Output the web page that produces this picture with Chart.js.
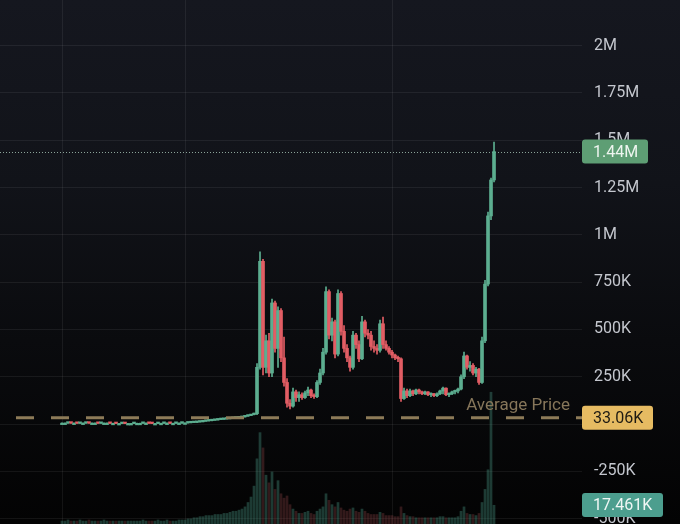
<!DOCTYPE html>
<html>
<head>
<meta charset="utf-8">
<script src="https://cdn.jsdelivr.net/npm/chart.js@4.4.1/dist/chart.umd.min.js"></script>
<style>
html, body { margin: 0; padding: 0; background: #000; }
#wrap {
  width: 680px; height: 524px;
  background: linear-gradient(180deg, #15171f 0%, #111319 35%, #0a0b0e 65%, #030303 100%);
}
canvas { display: block; }
</style>
</head>
<body>
<div id="wrap"><canvas id="chart" width="680" height="524"></canvas></div>
<script>
// prices and volumes in thousands
const opens = [
  5,5,5,6,5,5,4,5,5,6,5,5,5,4,5,5, 5,4,4,3,3,4,3,3,3,4,
  4,4,5,5,4,3,3,4,4,5,5,4,4,5,5,6,6, 7,8,9,11, 12,15,17,18,20,22,
  24,25,27,28,30,32,33,35, 38,42,45,50,
  55,300,860,300,440,270,640,400,600,350,
  220,110,95,170,140,155,140,165,180,150,
  145,220,270,380,700,470,540,370,690,490,
  400,350,300,470,420,345,540,480,470,410,
  400,390,530,420,400,380,365,350,345,135,
  175,150,175,160,180,170,160,170,155,160,
  150,160,175,190,155,160,170,175,185,250,
  360,300,310,270,290,220,440,740,1100,1290
];
const closes = [
  5,5,6,5,5,4,5,5,6,5,5,5,4,5,5,5, 4,4,3,3,4,3,3,3,4,4,
  4,5,5,4,3,3,4,4,5,5,4,4,5,5,6,6,7, 8,9,11,12, 15,17,18,20,22,24,
  25,27,28,30,32,33,35,38, 42,45,50,55,
  300,860,300,440,270,640,400,600,350,220,
  110,95,170,140,155,140,165,180,150,145,
  220,270,380,700,470,540,370,690,490,400,
  350,300,470,420,345,540,480,470,410,400,
  390,530,420,400,380,365,350,345,135,175,
  150,175,160,180,170,160,170,155,160,150,
  160,175,190,155,160,170,175,185,250,360,
  300,310,270,290,220,440,740,1100,1290,1440
];
const highs = [
  6,6,7,7,6,6,6,6,7,7,6,6,6,6,6,6, 6,5,5,4,5,5,4,4,5,5,
  5,6,6,6,5,4,5,5,6,6,6,5,6,6,7,7,8, 9,10,12,13, 16,18,19,21,23,25,
  26,28,29,31,33,34,36,40, 44,47,52,58,
  320,910,870,470,480,660,650,620,610,460,
  240,130,190,180,170,165,175,195,185,160,
  230,290,400,725,710,560,550,710,700,520,
  420,360,490,480,440,570,550,500,490,440,
  420,550,565,440,410,390,370,360,350,190,
  185,185,180,185,185,175,175,172,165,162,
  165,180,195,192,165,175,180,190,260,380,
  365,330,320,300,295,460,760,1120,1300,1490
];
const lows = [
  4,4,4,4,4,3,3,4,4,4,4,4,3,3,4,4, 3,3,2,2,2,2,2,2,2,3,
  3,3,4,3,2,2,2,3,3,4,3,3,3,4,4,5,5, 6,7,8,10, 11,14,16,17,19,21,
  23,24,26,27,29,31,32,34, 37,41,44,48,
  50,290,260,270,250,250,380,300,330,200,
  90,80,90,120,120,130,135,150,140,135,
  140,210,260,370,450,440,350,360,470,380,
  330,280,290,400,330,340,460,450,390,380,
  370,380,400,390,370,350,340,330,120,130,
  140,145,150,155,160,155,155,150,145,145,
  145,155,160,150,145,155,160,165,180,240,
  290,280,260,250,210,215,430,730,1080,1280
];
const volumes = [
  3,3,4,3,3,3,4,3,3,4,3,3,3,3,4,3, 3,3,3,3,3,3,3,3,3,3,
  3,4,3,3,3,3,4,3,3,4,3,3,3,4,4,4,5, 5,6,6,7, 7,8,8,8,9,9,
  9,10,10,11,12,12,13,14, 16,20,25,35,
  60,84,70,45,38,48,32,40,28,24,
  26,18,14,12,10,10,11,12,10,9,
  12,14,16,28,22,18,16,20,15,13,
  12,14,15,12,11,14,12,10,9,9,
  9,11,10,8,8,8,7,7,16,10,
  8,7,7,6,6,6,6,6,6,6,
  6,7,7,6,6,6,6,7,12,16,
  10,9,9,8,10,20,32,50,121,17.461
];
const priceTicks = [-500, -250, 0, 250, 500, 750, 1000, 1250, 1500, 1750, 2000];
const avgPrice = 33.06;
const timeGridAt = [0, 41, 110];

const fmt = v => {
  if (v === 0) return '0';
  if (Math.abs(v) >= 1000) return (v / 1000) + 'M';
  return v + 'K';
};

const up = closes.map((c, i) => c >= opens[i]);
const candleCol = up.map(u => u ? '#5cae90' : '#e25d64');
const volCol = up.map(u => u ? 'rgba(75,155,135,0.36)' : 'rgba(160,75,80,0.3)');

function tag(ctx, x, yc, w, text, bg, fg) {
  ctx.save();
  ctx.fillStyle = bg;
  ctx.beginPath();
  ctx.roundRect(x, yc - 12, w, 24, 3);
  ctx.fill();
  ctx.fillStyle = fg;
  ctx.font = '16px Roboto';
  ctx.textAlign = 'left';
  ctx.textBaseline = 'middle';
  ctx.fillText(text, x + 11, yc + 1);
  ctx.restore();
}

const overlayPlugin = {
  id: 'overlay',
  beforeDatasetsDraw(chart) {
    const { ctx, chartArea, scales: { y } } = chart;
    const py = Math.round(y.getPixelForValue(closes[closes.length - 1])) + 0.5;
    ctx.save();
    ctx.strokeStyle = 'rgba(170,200,185,0.8)';
    ctx.lineWidth = 1;
    ctx.setLineDash([1, 2]);
    ctx.beginPath();
    ctx.moveTo(chartArea.left, py);
    ctx.lineTo(chartArea.right, py);
    ctx.stroke();
    ctx.restore();
  },
  afterDatasetsDraw(chart) {
    const { ctx, chartArea, scales: { y } } = chart;
    const py = y.getPixelForValue(avgPrice);
    ctx.save();
    ctx.strokeStyle = '#8d7b58';
    ctx.lineWidth = 3;
    ctx.setLineDash([18, 17]);
    ctx.lineDashOffset = 19;
    ctx.beginPath();
    ctx.moveTo(chartArea.left, py);
    ctx.lineTo(chartArea.right, py);
    ctx.stroke();
    ctx.setLineDash([]);
    ctx.fillStyle = '#86765a';
    ctx.font = '17px Roboto';
    ctx.textAlign = 'right';
    ctx.textBaseline = 'alphabetic';
    ctx.fillText('Average Price', chartArea.right - 12, py - 8);
    ctx.restore();
  },
  afterDraw(chart) {
    const { ctx, chartArea, scales: { y, yv } } = chart;
    const x0 = chartArea.right;
    tag(ctx, x0, y.getPixelForValue(closes[closes.length - 1]), 66, fmt(closes[closes.length - 1]), '#5e9e74', '#eef5ef');
    tag(ctx, x0, y.getPixelForValue(avgPrice), 71, fmt(avgPrice), '#e6bb62', '#1e1a12');
    const lastVol = volumes[volumes.length - 1];
    tag(ctx, x0, yv.getPixelForValue(lastVol), 81, fmt(lastVol), '#4c9e8e', '#f0f7f5');
  }
};

const gridCol = 'rgba(255,255,255,0.065)';

new Chart(document.getElementById('chart').getContext('2d'), {
  type: 'bar',
  data: {
    datasets: [
      {
        label: 'Volume',
        yAxisID: 'yv',
        data: volumes.map((v, i) => ({ x: i, y: v })),
        backgroundColor: volCol,
        barPercentage: 0.9,
        categoryPercentage: 1,
        grouped: false,
        order: 3
      },
      {
        label: 'Wick',
        yAxisID: 'y',
        data: lows.map((l, i) => ({ x: i, y: [l, highs[i]] })),
        backgroundColor: candleCol,
        barThickness: 1,
        grouped: false,
        order: 2
      },
      {
        label: 'Body',
        yAxisID: 'y',
        data: opens.map((o, i) => ({ x: i, y: [o, closes[i]] })),
        backgroundColor: candleCol,
        barPercentage: 1,
        categoryPercentage: 1,
        minBarLength: 1.5,
        grouped: false,
        order: 1
      }
    ]
  },
  options: {
    responsive: false,
    devicePixelRatio: 1,
    animation: false,
    layout: { padding: 0 },
    plugins: {
      legend: { display: false },
      tooltip: { enabled: false },
      title: { display: false }
    },
    scales: {
      x: {
        type: 'linear',
        min: -20.67,
        max: 173.33,
        offset: false,
        afterBuildTicks: s => { s.ticks = timeGridAt.map(v => ({ value: v })); },
        afterFit: s => { s.height = 0; s.paddingLeft = 0; s.paddingRight = 0; },
        ticks: { display: false },
        grid: { color: gridCol, drawTicks: false, offset: false },
        border: { display: false }
      },
      y: {
        position: 'right',
        min: -528,
        max: 2241,
        afterBuildTicks: s => { s.ticks = priceTicks.map(v => ({ value: v })); },
        afterFit: s => { s.width = 98; s.paddingTop = 0; s.paddingBottom = 0; },
        ticks: {
          padding: 12,
          color: '#c4c7ce',
          font: { family: 'Roboto', size: 16 },
          callback: v => fmt(v)
        },
        grid: { color: gridCol, drawTicks: false },
        border: { display: false }
      },
      yv: {
        display: false,
        min: 0,
        max: 480
      }
    }
  },
  plugins: [overlayPlugin]
});
</script>
</body>
</html>
